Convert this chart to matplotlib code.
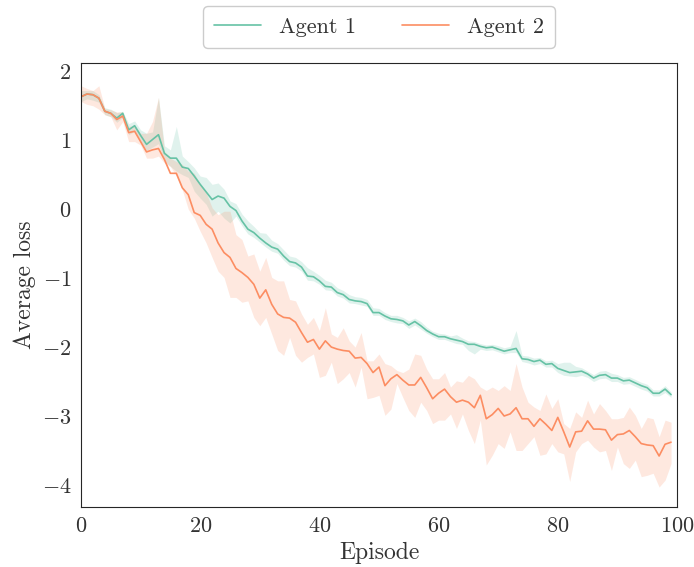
import numpy as np
import matplotlib
matplotlib.use("Agg")
import matplotlib.pyplot as plt
import seaborn as sns

# Episode-wise average loss
episodes = np.arange(100)

agent1_mean = [1.63, 1.67, 1.66, 1.61, 1.42, 1.39, 1.32, 1.39, 1.15, 1.21,
               1.07, 0.94, 1.01, 1.08, 0.81, 0.74, 0.74, 0.61, 0.59, 0.48,
               0.36, 0.25, 0.14, 0.19, 0.16, 0.04, -0.02, -0.17, -0.29, -0.34,
               -0.42, -0.49, -0.55, -0.58, -0.68, -0.76, -0.78, -0.84, -0.97, -0.98,
               -1.04, -1.12, -1.13, -1.21, -1.24, -1.31, -1.33, -1.34, -1.37, -1.50,
               -1.50, -1.55, -1.59, -1.60, -1.62, -1.68, -1.63, -1.69, -1.76, -1.81,
               -1.85, -1.85, -1.88, -1.90, -1.92, -1.96, -1.96, -1.99, -2.01, -2.00,
               -2.03, -2.06, -2.04, -2.02, -2.17, -2.18, -2.21, -2.19, -2.25, -2.24,
               -2.31, -2.34, -2.37, -2.36, -2.35, -2.39, -2.45, -2.41, -2.40, -2.45,
               -2.45, -2.49, -2.48, -2.52, -2.56, -2.59, -2.67, -2.67, -2.61, -2.69]
agent1_upper = [1.72, 1.72, 1.72, 1.66, 1.47, 1.45, 1.40, 1.42, 1.24, 1.28,
                1.15, 1.10, 1.12, 1.62, 0.92, 0.86, 1.20, 0.77, 0.69, 0.60,
                0.48, 0.46, 0.36, 0.38, 0.29, 0.12, 0.08, -0.07, -0.17, -0.25,
                -0.34, -0.35, -0.45, -0.50, -0.59, -0.68, -0.70, -0.76, -0.85, -0.90,
                -0.96, -1.03, -1.06, -1.14, -1.18, -1.24, -1.27, -1.28, -1.31, -1.43,
                -1.44, -1.50, -1.54, -1.54, -1.57, -1.62, -1.58, -1.63, -1.71, -1.77,
                -1.80, -1.81, -1.84, -1.82, -1.87, -1.91, -1.92, -1.95, -1.97, -1.96,
                -1.98, -2.01, -1.99, -1.76, -2.12, -2.13, -2.16, -2.15, -2.20, -2.19,
                -2.24, -2.22, -2.22, -2.28, -2.30, -2.35, -2.40, -2.35, -2.34, -2.38,
                -2.40, -2.44, -2.43, -2.47, -2.51, -2.54, -2.62, -2.62, -2.56, -2.65]
agent1_lower = [1.56, 1.60, 1.58, 1.55, 1.37, 1.34, 1.26, 1.33, 1.08, 1.13,
                0.99, 0.85, 0.90, 0.95, 0.70, 0.62, 0.55, 0.50, 0.46, 0.26,
                0.16, 0.07, -0.10, -0.03, -0.13, -0.20, -0.10, -0.24, -0.36, -0.41,
                -0.48, -0.55, -0.61, -0.64, -0.74, -0.82, -0.84, -0.90, -1.03, -1.04,
                -1.09, -1.17, -1.18, -1.26, -1.29, -1.36, -1.37, -1.39, -1.41, -1.54,
                -1.54, -1.60, -1.63, -1.65, -1.66, -1.73, -1.68, -1.74, -1.80, -1.85,
                -1.89, -1.89, -1.92, -1.95, -1.96, -2.05, -2.10, -2.03, -2.05, -2.04,
                -2.07, -2.10, -2.08, -2.08, -2.21, -2.23, -2.26, -2.24, -2.29, -2.29,
                -2.37, -2.41, -2.42, -2.43, -2.41, -2.44, -2.50, -2.46, -2.45, -2.50,
                -2.50, -2.54, -2.53, -2.57, -2.61, -2.64, -2.71, -2.71, -2.66, -2.73]

agent2_mean = [1.63, 1.67, 1.66, 1.61, 1.42, 1.39, 1.30, 1.35, 1.11, 1.13,
               0.98, 0.83, 0.86, 0.88, 0.72, 0.52, 0.52, 0.31, 0.21, -0.05,
               -0.09, -0.22, -0.29, -0.49, -0.63, -0.70, -0.86, -0.92, -0.99, -1.09,
               -1.29, -1.17, -1.38, -1.52, -1.57, -1.58, -1.64, -1.79, -1.93, -1.89,
               -2.03, -1.91, -2.00, -2.03, -2.05, -2.06, -2.16, -2.15, -2.24, -2.37,
               -2.29, -2.56, -2.46, -2.40, -2.48, -2.55, -2.55, -2.44, -2.59, -2.75,
               -2.67, -2.61, -2.72, -2.80, -2.77, -2.80, -2.88, -2.70, -3.04, -2.98,
               -2.89, -3.00, -2.97, -2.88, -3.04, -3.04, -3.15, -3.04, -3.12, -3.21,
               -3.02, -3.23, -3.45, -3.23, -3.22, -3.07, -3.19, -3.19, -3.20, -3.35,
               -3.27, -3.26, -3.21, -3.30, -3.40, -3.42, -3.43, -3.58, -3.41, -3.38]
agent2_upper = [1.79, 1.75, 1.72, 1.79, 1.46, 1.44, 1.41, 1.41, 1.20, 1.22,
                1.10, 1.10, 1.27, 1.62, 0.84, 0.74, 0.69, 0.65, 0.55, 0.52,
                0.36, 0.24, 0.02, -0.08, -0.03, -0.03, -0.37, -0.44, -0.68, -0.65,
                -0.90, -0.70, -0.99, -1.04, -1.04, -1.31, -1.33, -1.52, -1.67, -1.57,
                -1.76, -1.43, -1.81, -1.86, -1.72, -1.91, -2.00, -1.79, -2.20, -2.20,
                -2.10, -2.24, -2.27, -2.34, -2.37, -2.32, -2.10, -2.12, -2.32, -2.46,
                -2.46, -2.37, -2.58, -2.49, -2.51, -2.41, -2.46, -2.58, -2.63, -2.58,
                -2.63, -2.56, -2.63, -2.24, -2.58, -2.80, -2.87, -2.92, -2.68, -2.89,
                -2.75, -3.11, -3.18, -2.94, -3.02, -2.77, -2.97, -2.82, -2.92, -3.04,
                -3.04, -3.02, -2.87, -2.99, -3.18, -3.02, -3.04, -3.30, -3.06, -3.09]
agent2_lower = [1.56, 1.52, 1.50, 1.45, 1.37, 1.34, 1.15, 1.27, 0.98, 0.98,
                0.93, 0.74, 0.74, 0.77, 0.67, 0.62, 0.48, 0.28, 0.00, -0.13,
                -0.32, -0.49, -0.70, -0.90, -0.99, -1.28, -1.28, -1.35, -1.33, -1.57,
                -1.69, -1.57, -1.81, -2.05, -2.12, -1.86, -2.12, -2.22, -2.15, -2.10,
                -2.44, -2.41, -2.22, -2.53, -2.46, -2.37, -2.58, -2.29, -2.75, -2.73,
                -2.70, -2.99, -2.90, -2.53, -2.73, -2.92, -3.02, -2.80, -2.92, -3.11,
                -3.06, -3.06, -2.97, -3.18, -2.97, -3.21, -3.40, -3.06, -3.71, -3.57,
                -3.40, -3.47, -3.23, -3.50, -3.50, -3.40, -3.30, -3.57, -3.55, -3.40,
                -3.52, -3.55, -3.95, -3.52, -3.40, -3.35, -3.45, -3.52, -3.50, -3.79,
                -3.45, -3.69, -3.76, -3.64, -3.88, -3.86, -3.83, -4.03, -3.93, -3.69]

x_ticks = [0, 20, 40, 60, 80, 100]
y_ticks = [-4, -3, -2, -1, 0, 1, 2]

sns.set_style("white")
plt.rcParams['font.family'] = ['cmr10']
plt.rcParams['mathtext.fontset'] = 'cm'
plt.rcParams['axes.formatter.use_mathtext'] = True

green = sns.color_palette("Set2")[0]
orange = sns.color_palette("Set2")[1]

fig = plt.figure(figsize=(6.94, 5.67), dpi=100)
ax = fig.add_axes([0.1167, 0.1058, 0.8588, 0.7831])

ax.fill_between(episodes, agent1_lower, agent1_upper, color=green, alpha=0.2, linewidth=0)
ax.plot(episodes, agent1_mean, color=green, lw=1.2, label='Agent 1')
ax.fill_between(episodes, agent2_lower, agent2_upper, color=orange, alpha=0.2, linewidth=0)
ax.plot(episodes, agent2_mean, color=orange, lw=1.2, label='Agent 2')

ax.set_xlim(0, 100)
ax.set_ylim(-4.32, 2.12)
ax.set_xticks(x_ticks)
ax.set_yticks(y_ticks)
ax.tick_params(labelsize=16, colors='.2')
ax.set_xlabel('Episode', fontsize=17, color='.2')
ax.set_ylabel('Average loss', fontsize=17, color='.2')
for s in ax.spines.values():
    s.set_color('.15')

leg = ax.legend(loc='lower center', bbox_to_anchor=(0.5, 1.034), ncol=2, fontsize=16,
                handlelength=2.1, columnspacing=2.1, borderaxespad=0, borderpad=0.5,
                framealpha=1, edgecolor='.8')
for t in leg.get_texts():
    t.set_color('.2')

fig.savefig('out.png', dpi=100)
